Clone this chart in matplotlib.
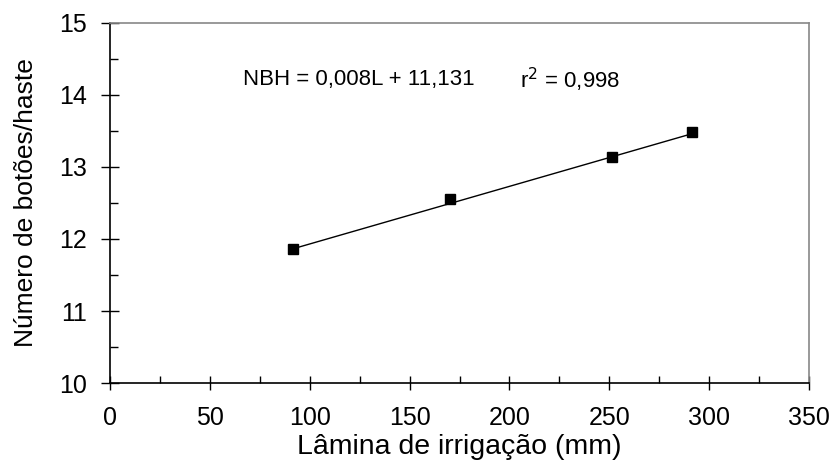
import numpy as np
import matplotlib
matplotlib.use("Agg")
import matplotlib.pyplot as plt
from matplotlib.ticker import MultipleLocator

plt.rcParams['font.family'] = ['Liberation Sans', 'DejaVu Sans']

# Irrigation depth (mm) and number of buds per stem
lamina = [91.5, 170.3, 251.5, 291.3]
botoes = [11.86, 12.56, 13.14, 13.49]

# Linear fit reported on the chart
slope = 0.008
intercept = 11.131
r2 = 0.998

x_ticks = [0, 50, 100, 150, 200, 250, 300, 350]
y_ticks = [10, 11, 12, 13, 14, 15]

fig = plt.figure(figsize=(8.36, 4.61), dpi=100)
ax = fig.add_axes([110 / 836, 1 - 383 / 461, (809 - 110) / 836, (383 - 23) / 461])

xfit = np.array([min(lamina), max(lamina)])
ax.plot(xfit, slope * xfit + intercept, color='black', lw=1.0, zorder=2)
ax.plot(lamina, botoes, linestyle='none', marker='s', markersize=7,
        color='black', zorder=3)

ax.set_xlim(0, 350)
ax.set_ylim(10, 15)
ax.set_xticks(x_ticks)
ax.set_yticks(y_ticks)
ax.xaxis.set_minor_locator(MultipleLocator(25))
ax.yaxis.set_minor_locator(MultipleLocator(0.5))

ax.tick_params(axis='y', which='major', direction='inout', length=13, width=1.0,
               labelsize=18, color='black', pad=10)
ax.tick_params(axis='x', which='major', direction='inout', length=9.5, width=1.0,
               labelsize=18, color='black', pad=12)
ax.tick_params(axis='y', which='minor', direction='in', length=6, width=1.0, color='black')
ax.tick_params(axis='x', which='minor', direction='in', length=5, width=1.0, color='black')

for side in ('left', 'bottom'):
    ax.spines[side].set_color('black')
    ax.spines[side].set_linewidth(1.2)
for side in ('top', 'right'):
    ax.spines[side].set_color('#888888')
    ax.spines[side].set_linewidth(1.2)

ax.set_xlabel('Lâmina de irrigação (mm)', fontsize=20.5, labelpad=3)
ax.set_ylabel('Número de botões/haste', fontsize=19, labelpad=15)

ax.text(0.19, 0.842, 'NBH = 0,008L + 11,131', transform=ax.transAxes,
        fontsize=16, ha='left', va='center')
ax.text(0.587, 0.842, r'r$^{2}$ = 0,998', transform=ax.transAxes,
        fontsize=16, ha='left', va='center')

fig.savefig('out.png', dpi=100)
